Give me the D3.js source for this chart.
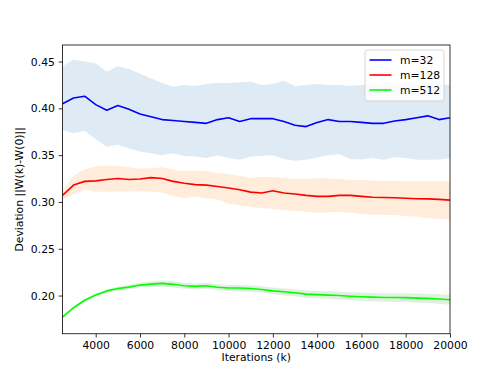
<!DOCTYPE html>
<html>
<head>
<meta charset="utf-8">
<script src="https://cdnjs.cloudflare.com/ajax/libs/d3/7.8.5/d3.min.js"></script>
<style>
  body { margin: 0; background: #fff; }
  text { font-family: "DejaVu Sans", sans-serif; fill: #000; }
</style>
</head>
<body>
<div id="chart"></div>
<script>
var iterations = [2500, 3000, 3500, 4000, 4500, 5000, 5500, 6000, 6500, 7000, 7500, 8000,
  8500, 9000, 9500, 10000, 10500, 11000, 11500, 12000, 12500, 13000, 13500, 14000,
  14500, 15000, 15500, 16000, 16500, 17000, 17500, 18000, 18500, 19000, 19500, 20000];

var m32_mean = [0.405, 0.411, 0.413, 0.404, 0.398, 0.403, 0.399, 0.394, 0.391, 0.388, 0.387, 0.386,
  0.385, 0.384, 0.388, 0.390, 0.386, 0.389, 0.389, 0.389, 0.386, 0.382, 0.3805, 0.385,
  0.388, 0.386, 0.386, 0.385, 0.384, 0.384, 0.3865, 0.388, 0.390, 0.392, 0.388, 0.390];
var m32_upper = [0.445, 0.452, 0.450, 0.448, 0.439, 0.445, 0.442, 0.437, 0.432, 0.427, 0.423, 0.425,
  0.424, 0.426, 0.427, 0.427, 0.428, 0.4285, 0.425, 0.426, 0.4295, 0.4235, 0.425, 0.426,
  0.425, 0.425, 0.424, 0.425, 0.426, 0.425, 0.427, 0.426, 0.425, 0.427, 0.426, 0.425];
var m32_lower = [0.377, 0.3735, 0.376, 0.367, 0.359, 0.361, 0.357, 0.354, 0.352, 0.350, 0.352, 0.349,
  0.3485, 0.347, 0.350, 0.347, 0.345, 0.3485, 0.3495, 0.350, 0.346, 0.344, 0.345, 0.3475,
  0.350, 0.351, 0.346, 0.3455, 0.347, 0.345, 0.348, 0.347, 0.345, 0.345, 0.3455, 0.3468];

var m128_mean = [0.307, 0.318, 0.322, 0.3225, 0.324, 0.325, 0.324, 0.3245, 0.326, 0.325, 0.322, 0.320,
  0.3185, 0.318, 0.3165, 0.315, 0.313, 0.3105, 0.3095, 0.312, 0.3095, 0.3085, 0.307, 0.306,
  0.306, 0.307, 0.307, 0.306, 0.305, 0.3047, 0.3045, 0.304, 0.3035, 0.3033, 0.3028, 0.302];
var m128_upper = [0.312, 0.328, 0.335, 0.338, 0.339, 0.3385, 0.337, 0.3355, 0.336, 0.337, 0.3345, 0.333,
  0.3335, 0.333, 0.331, 0.3295, 0.328, 0.3255, 0.327, 0.3265, 0.326, 0.3245, 0.3248, 0.3254,
  0.3254, 0.3245, 0.3236, 0.3235, 0.323, 0.3225, 0.3225, 0.322, 0.3218, 0.322, 0.3218, 0.3218];
var m128_lower = [0.303, 0.308, 0.313, 0.311, 0.311, 0.3112, 0.3115, 0.3115, 0.3112, 0.310, 0.3065, 0.304,
  0.3058, 0.304, 0.3025, 0.298, 0.2965, 0.295, 0.2935, 0.2925, 0.2915, 0.2905, 0.2895, 0.2885,
  0.289, 0.2895, 0.2885, 0.287, 0.2865, 0.2862, 0.286, 0.285, 0.2845, 0.283, 0.282, 0.281];

var m512_mean = [0.177, 0.187, 0.195, 0.2005, 0.205, 0.2075, 0.209, 0.2112, 0.2122, 0.213, 0.212, 0.2105,
  0.2098, 0.2105, 0.2088, 0.208, 0.208, 0.2075, 0.2065, 0.205, 0.204, 0.203, 0.2015, 0.201,
  0.2005, 0.200, 0.1993, 0.1988, 0.1983, 0.198, 0.1979, 0.1978, 0.1973, 0.197, 0.1963, 0.1955];
var m512_upper = [0.178, 0.188, 0.1965, 0.2022, 0.2068, 0.2095, 0.2112, 0.2138, 0.2152, 0.2162, 0.2155, 0.2138,
  0.2130, 0.2135, 0.2120, 0.2112, 0.2114, 0.2110, 0.2100, 0.2087, 0.2078, 0.2068, 0.2055, 0.2050,
  0.2046, 0.2042, 0.2036, 0.2032, 0.2028, 0.2026, 0.2026, 0.2026, 0.2022, 0.2020, 0.2014, 0.2008];
var m512_lower = [0.176, 0.186, 0.1935, 0.1988, 0.2032, 0.2055, 0.2068, 0.2086, 0.2092, 0.2098, 0.2085, 0.2072,
  0.2066, 0.2075, 0.2056, 0.2048, 0.2046, 0.2040, 0.2030, 0.2013, 0.2002, 0.1992, 0.1975, 0.1970,
  0.1964, 0.1958, 0.1950, 0.1944, 0.1938, 0.1934, 0.1932, 0.1930, 0.1924, 0.1920, 0.1912, 0.1902];

var x_ticks = [4000, 6000, 8000, 10000, 12000, 14000, 16000, 18000, 20000];
var y_ticks = [0.20, 0.25, 0.30, 0.35, 0.40, 0.45];
var labels = ["m=32", "m=128", "m=512"];

var width = 500, height = 375;
var margin = {left: 62.5, right: 50, top: 45, bottom: 41.25};
var fsize = 10.8;

// series: line colour, band colour (matplotlib C0..C2 at alpha .15)
var series = [
  {name: labels[0], mean: m32_mean, upper: m32_upper, lower: m32_lower, color: "#0000ff", band: "#1f77b4"},
  {name: labels[1], mean: m128_mean, upper: m128_upper, lower: m128_lower, color: "#ff0000", band: "#ff7f0e"},
  {name: labels[2], mean: m512_mean, upper: m512_upper, lower: m512_lower, color: "#00ff00", band: "#2ca02c"}
];

var svg = d3.select("#chart").append("svg")
  .attr("width", width)
  .attr("height", height);

var x = d3.scaleLinear()
  .domain([2500, 20000])
  .range([margin.left, width - margin.right]);
var y = d3.scaleLinear()
  .domain([0.1592, 0.4677])
  .range([height - margin.bottom, margin.top]);

var clip = svg.append("clipPath").attr("id", "plotclip")
  .append("rect")
  .attr("x", margin.left).attr("y", margin.top)
  .attr("width", width - margin.left - margin.right)
  .attr("height", height - margin.top - margin.bottom);

var plot = svg.append("g").attr("clip-path", "url(#plotclip)");

var area = function(s){
  return d3.area()
    .x(function(d, i){ return x(iterations[i]); })
    .y0(function(d, i){ return y(s.lower[i]); })
    .y1(function(d, i){ return y(s.upper[i]); });
};
var line = function(s){
  return d3.line()
    .x(function(d, i){ return x(iterations[i]); })
    .y(function(d, i){ return y(s.mean[i]); });
};

series.forEach(function(s){
  plot.append("path")
    .datum(s.mean)
    .attr("d", area(s))
    .attr("fill", s.band)
    .attr("fill-opacity", 0.15);
});

series.forEach(function(s){
  plot.append("path")
    .datum(s.mean)
    .attr("d", line(s))
    .attr("fill", "none")
    .attr("stroke", s.color)
    .attr("stroke-width", 1.6)
    .attr("stroke-linejoin", "round");
});

// axes
var xAxis = svg.append("g")
  .attr("transform", "translate(0," + (height - margin.bottom) + ")")
  .call(d3.axisBottom(x).tickValues(x_ticks).tickFormat(d3.format("d")).tickSizeOuter(0).tickSize(3.8).tickPadding(3.8));
var yAxis = svg.append("g")
  .attr("transform", "translate(" + margin.left + ",0)")
  .call(d3.axisLeft(y).tickValues(y_ticks).tickFormat(d3.format(".2f")).tickSizeOuter(0).tickSize(3.8).tickPadding(3.8));

[xAxis, yAxis].forEach(function(a){
  a.select(".domain").remove();
  a.selectAll("line").attr("stroke", "#000").attr("stroke-width", 0.8);
  a.selectAll("text").attr("font-size", fsize).attr("font-family", "DejaVu Sans").attr("fill", "#000");
});

// frame
svg.append("rect")
  .attr("x", margin.left).attr("y", margin.top)
  .attr("width", width - margin.left - margin.right)
  .attr("height", height - margin.top - margin.bottom)
  .attr("fill", "none")
  .attr("stroke", "#000")
  .attr("stroke-width", 0.8);

svg.append("text")
  .attr("x", (margin.left + width - margin.right) / 2)
  .attr("y", 361)
  .attr("text-anchor", "middle")
  .attr("font-size", fsize)
  .text("Iterations (k)");

svg.append("text")
  .attr("transform", "translate(23," + ((margin.top + height - margin.bottom) / 2) + ") rotate(-90)")
  .attr("text-anchor", "middle")
  .attr("font-size", fsize)
  .text("Deviation ||W(k)-W(0)||");

// legend
var legend = svg.append("g");
legend.append("rect")
  .attr("x", 365).attr("y", 50)
  .attr("width", 79).attr("height", 51)
  .attr("rx", 2.5)
  .attr("fill", "#fff")
  .attr("fill-opacity", 0.8)
  .attr("stroke", "#cccccc")
  .attr("stroke-width", 0.8);

var items = legend.selectAll("g.item")
  .data(series)
  .enter()
  .append("g")
  .attr("class", "item")
  .attr("transform", function(d, i){
    return "translate(0," + (60 + i * 15) + ")";
  });
items.append("line")
  .attr("x1", 369.5).attr("x2", 391.5)
  .attr("stroke", function(d){ return d.color; })
  .attr("stroke-width", 1.6);
items.append("text")
  .attr("x", 400)
  .attr("dy", "0.35em")
  .attr("font-size", fsize)
  .text(function(d){ return d.name; });
</script>
</body>
</html>
